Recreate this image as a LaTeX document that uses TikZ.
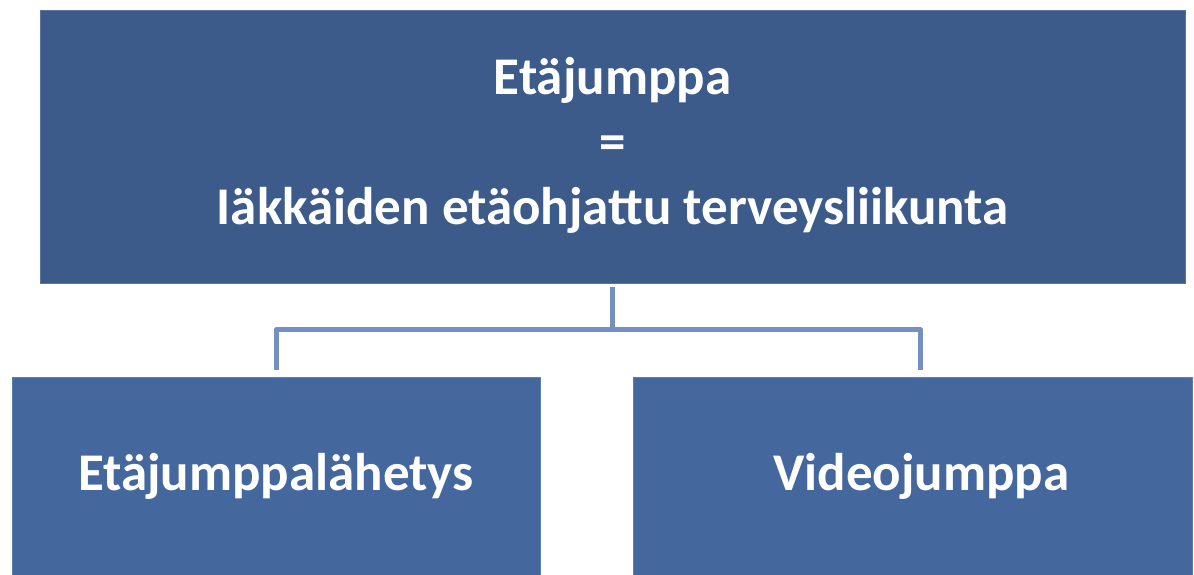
\documentclass[tikz,border=0pt]{standalone}
\usepackage{fontspec}
\setmainfont{Carlito}
\usetikzlibrary{positioning}
\definecolor{topblue}{HTML}{3C5A8A}
\definecolor{subblue}{HTML}{44679E}
\definecolor{linkblue}{HTML}{7390C0}
\tikzstyle{mainBox} = [rectangle, fill=topblue, draw=topblue!85!white, line width=0.8pt, text=white, align=center,
	font=\fontsize{53}{65}\selectfont\bfseries, inner sep=0pt]
\tikzstyle{subBox} = [rectangle, fill=subblue, draw=subblue!85!white, line width=0.8pt, text=white, align=center,
	font=\fontsize{53}{60}\selectfont\bfseries, inner sep=0pt, minimum height=198pt]
\tikzstyle{link} = [line width=5pt, linkblue, line join=round]

\begin{document}
\begin{tikzpicture}[x=1pt,y=1pt]
		\useasboundingbox (0,0) rectangle (1194,575);
		% nodes
		\node[mainBox, minimum width=1145pt, minimum height=273pt] (top) at (612.5,428.5) {\raisebox{-8pt}{\begin{tabular}{@{}c@{}}Etäjumppa\\[0pt]=\\Iäkkäiden etäohjattu terveysliikunta\end{tabular}}};	% Oberbegriff
		\node[subBox, minimum width=528pt] (send) at (276,99) {\raisebox{-7pt}{Etäjumppalähetys}};		% linker Kasten
		\node[subBox, minimum width=559pt] (video) at (912.5,99) {\raisebox{-7pt}{\hspace*{18pt}Videojumppa}};			% rechter Kasten
		\coordinate (bar) at (612.5,245);		% Verzweigungspunkt
		
		% connectors
		\draw[link, shorten <=4pt] (top.south) -- (bar);
		\draw[link, shorten >=7pt] (bar) -| (send.north);
		\draw[link, shorten >=7pt] (bar) -| ([xshift=8pt]video.north);
		\end{tikzpicture}
\end{document}
